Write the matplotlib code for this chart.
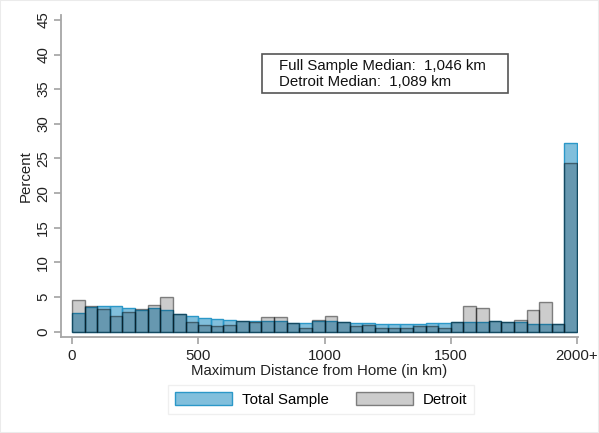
import matplotlib
matplotlib.use("Agg")
import matplotlib.pyplot as plt
from matplotlib.patches import Rectangle

plt.rcParams['font.family'] = ['Liberation Sans', 'DejaVu Sans']

# histogram bins of 50 km, last bin holds everything above 2000 km
bin_edges = list(range(0, 2001, 50))
total = [2.7, 3.6, 3.7, 3.7, 3.4, 3.2, 3.4, 3.2, 2.6, 2.2,
         2.0, 1.8, 1.7, 1.6, 1.5, 1.6, 1.5, 1.3, 1.3, 1.5,
         1.5, 1.4, 1.2, 1.2, 1.1, 1.05, 1.1, 1.1, 1.2, 1.3,
         1.45, 1.45, 1.45, 1.6, 1.35, 1.45, 1.1, 1.1, 1.05, 27.3]
detroit = [4.6, 3.7, 3.3, 2.3, 2.9, 3.3, 3.8, 5.0, 2.6, 1.4,
           1.0, 0.8, 1.0, 1.6, 1.4, 2.1, 2.1, 1.3, 0.6, 1.7,
           2.2, 1.4, 0.8, 0.9, 0.6, 0.6, 0.6, 0.8, 0.8, 0.6,
           1.4, 3.7, 3.4, 1.6, 1.35, 1.75, 3.1, 4.3, 1.05, 24.3]
xticks = [0, 500, 1000, 1500, 2000]
xtick_labels = ["0", "500", "1000", "1500", "2000+"]
yticks = list(range(0, 46, 5))
medians = ["Full Sample Median:  1,046 km", "Detroit Median:  1,089 km"]

W, H = 599, 433
fig = plt.figure(figsize=(W / 100, H / 100), dpi=100)
ax = fig.add_axes([60.6 / W, 1 - 336.7 / H, (578.3 - 60.6) / W, (336.7 - 15) / H])

lefts = bin_edges[:-1]
widths = [b - a for a, b in zip(bin_edges[:-1], bin_edges[1:])]
ax.bar(lefts, total, width=widths, align='edge',
       facecolor=(26/255, 139/255, 192/255, 0.55), edgecolor='#2b98c8',
       linewidth=1.0, label='Total Sample')
ax.bar(lefts, detroit, width=widths, align='edge',
       facecolor=(0, 0, 0, 0.2), edgecolor=(0, 0, 0, 0.45),
       linewidth=1.0, label='Detroit')

ax.set_xlim(-45, 2005)
ax.set_ylim(-0.72, 45.7)
ax.set_xticks(xticks)
ax.set_xticklabels(xtick_labels)
ax.set_yticks(yticks)
ax.tick_params(axis='y', labelrotation=90)
for t in ax.get_yticklabels():
    t.set_va('center')
ax.tick_params(direction='out', length=5, width=1.1, color='#9a9a9a',
               labelsize=10.8, labelcolor='#222222', pad=3.5)
ax.tick_params(axis='y', pad=2.5)

for s in ['top', 'right']:
    ax.spines[s].set_visible(False)
for s in ['left', 'bottom']:
    ax.spines[s].set_color('#a6a6a6')
    ax.spines[s].set_linewidth(1.3)

ax.set_xlabel("Maximum Distance from Home (in km)", fontsize=10.8, color='#222222', labelpad=1)
ax.set_ylabel("Percent", fontsize=10.8, color='#222222')
ax.yaxis.set_label_coords(-0.0533, 0.5)

# medians box
fig.patches.append(Rectangle((261.7 / W, 1 - 92.7 / H), (507.7 - 261.7) / W, (92.7 - 54.3) / H,
                             transform=fig.transFigure, fill=False,
                             edgecolor='#555555', linewidth=1.2))
fig.text(279.3 / W, 1 - 66 / H, medians[0], fontsize=10.8, va='center', ha='left', color='#111111')
fig.text(279.3 / W, 1 - 81.7 / H, medians[1], fontsize=10.8, va='center', ha='left', color='#111111')

leg = fig.legend(loc='center', bbox_to_anchor=(321.3 / W, 1 - 399.5 / H), ncol=2,
                 fontsize=10.8, frameon=True, fancybox=False, handlelength=3.8,
                 handleheight=0.93, handletextpad=0.67, columnspacing=1.8,
                 borderpad=0.45)
leg.get_frame().set_edgecolor('#ececec')
leg.get_frame().set_linewidth(1.0)

fig.patches.append(Rectangle((0, 0), 1, 1, transform=fig.transFigure, fill=False,
                             edgecolor='#ebebeb', linewidth=1.5))

fig.savefig("out.png", dpi=100)
